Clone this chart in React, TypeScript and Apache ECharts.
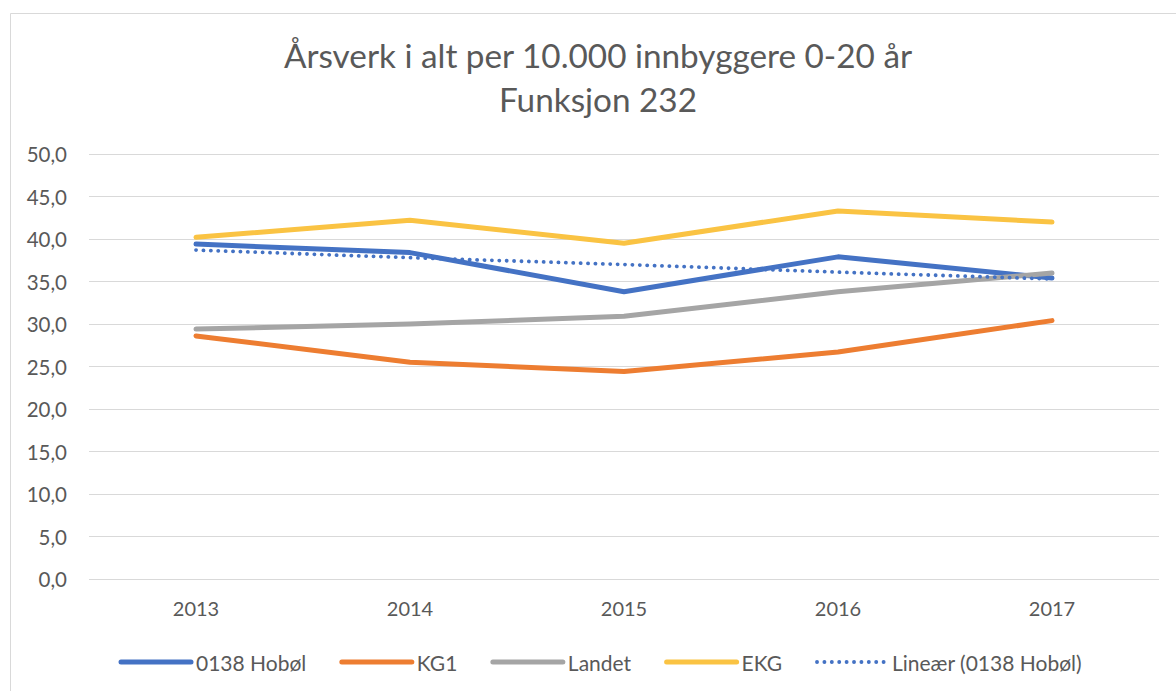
import React, { useEffect, useRef } from "react";
import * as echarts from "echarts";

const years = ["2013", "2014", "2015", "2016", "2017"];
const hobol = [39.4, 38.4, 33.8, 37.9, 35.4];
const kg1 = [28.6, 25.5, 24.4, 26.7, 30.4];
const landet = [29.4, 30.0, 30.9, 33.8, 36.0];
const ekg = [40.2, 42.2, 39.5, 43.3, 42.0];
const trendHobol = [38.7, 37.8, 37.0, 36.1, 35.3];

const seriesNames = ["0138 Hobøl", "KG1", "Landet", "EKG", "Lineær (0138 Hobøl)"];
const colors = ["#4472C4", "#ED7D31", "#A5A5A5", "#FAC343", "#4472C4"];

const FONT = "Lato, 'Open Sans', sans-serif";
const TEXT = "#595959";

export default function App() {
  const ref = useRef<HTMLDivElement>(null);
  useEffect(() => {
    if (!ref.current) return;
    const chart = echarts.init(ref.current, null, { renderer: "svg" });
    const solid = (name: string, data: number[], color: string) => ({
      name,
      type: "line",
      data,
      symbol: "none",
      smooth: false,
      lineStyle: { color, width: 5, cap: "round", join: "round" },
      itemStyle: { color },
      z: 3,
    });
    const dotted = { width: 3.8, type: [0.1, 7.3], cap: "round" };
    chart.setOption({
      animation: false,
      backgroundColor: "#ffffff",
      color: colors,
      textStyle: { fontFamily: FONT },
      title: {
        text: "Årsverk i alt per 10.000 innbyggere 0-20 år\nFunksjon 232",
        left: 593,
        top: 28,
        textAlign: "center",
        textStyle: {
          fontFamily: FONT,
          fontSize: 33.3,
          fontWeight: "normal",
          color: TEXT,
          lineHeight: 44,
        },
      },
      graphic: [
        {
          type: "rect",
          shape: { x: 10.5, y: 13.5, width: 1300, height: 800 },
          style: { fill: "none", stroke: "#D9D9D9", lineWidth: 1 },
          silent: true,
          z: -1,
        },
      ],
      legend: {
        data: seriesNames.map((name, i) => ({
          name,
          lineStyle: i === 4 ? { ...dotted, color: colors[i] } : { width: 5, cap: "round", color: colors[i] },
        })),
        left: 113.5,
        top: 646,
        itemWidth: 70,
        itemHeight: 5,
        itemGap: 33,
        itemStyle: { opacity: 0 },
        textStyle: { fontFamily: FONT, fontSize: 21, color: TEXT, lineHeight: 22 },
      },
      grid: { left: 89, right: 17, top: 154, bottom: 112, containLabel: false },
      xAxis: {
        type: "category",
        data: years,
        boundaryGap: true,
        axisLine: { show: false },
        axisTick: { show: false },
        axisLabel: { color: TEXT, fontSize: 20, fontFamily: FONT, margin: 19 },
      },
      yAxis: {
        type: "value",
        min: 0,
        max: 50,
        interval: 5,
        axisLine: { show: false },
        axisTick: { show: false },
        splitLine: { lineStyle: { color: "#D9D9D9", width: 1 } },
        axisLabel: {
          color: TEXT,
          fontSize: 20.5,
          fontFamily: FONT,
          margin: 22,
          formatter: (v: number) => v.toFixed(1).replace(".", ","),
        },
      },
      series: [
        solid(seriesNames[0], hobol, colors[0]),
        solid(seriesNames[1], kg1, colors[1]),
        solid(seriesNames[2], landet, colors[2]),
        solid(seriesNames[3], ekg, colors[3]),
        {
          name: seriesNames[4],
          type: "line",
          data: trendHobol,
          symbol: "none",
          lineStyle: { ...dotted, color: colors[4] },
          itemStyle: { color: colors[4] },
          z: 4,
        },
      ],
    });
    return () => chart.dispose();
  }, []);
  return (
    <div
      ref={ref}
      style={{ position: "absolute", left: 0, top: 0, width: 1176, height: 691 }}
    />
  );
}
